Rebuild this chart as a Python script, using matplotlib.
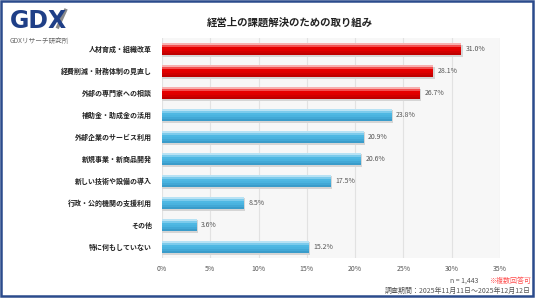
import matplotlib
matplotlib.use('Agg')
import matplotlib.pyplot as plt
from matplotlib.patches import Rectangle
from matplotlib.lines import Line2D

plt.rcParams['font.family'] = ['Noto Sans CJK JP', 'DejaVu Sans']

# データ
categories = [
    '人材育成・組織改革',
    '経費削減・財務体制の見直し',
    '外部の専門家への相談',
    '補助金・助成金の活用',
    '外部企業のサービス利用',
    '新規事業・新商品開発',
    '新しい技術や設備の導入',
    '行政・公的機関の支援利用',
    'その他',
    '特に何もしていない',
]
values = [31.0, 28.1, 26.7, 23.8, 20.9, 20.6, 17.5, 8.5, 3.6, 15.2]
highlight = [True, True, True, False, False, False, False, False, False, False]
xticks = [0, 5, 10, 15, 20, 25, 30, 35]

title = '経営上の課題解決のための取り組み'
note_n = 'n = 1,443'
note_multi = '※複数回答可'
note_period = '調査期間：2025年11月11日～2025年12月12日'

# 色 (上から下へのグラデーション)
red_shades = ['#f7b0b0', '#f25050', '#e60000', '#e00000', '#d00000', '#bf0000']
blue_shades = ['#b8e2f4', '#7ccbec', '#4fb8e3', '#4ab3df', '#42a8d6', '#3a9cca']

fig = plt.figure(figsize=(5.36, 2.98), dpi=100)
ax = fig.add_axes([0.302, 0.134, 0.631, 0.738])
ax.set_facecolor('#f7f7f7')

ypos = list(range(len(categories)))
bar_h = 0.56

# 影
ax.barh([y + 0.07 for y in ypos], [v + 0.15 for v in values], height=bar_h,
        color='#d5d5d5', zorder=2)

# グラデーションのバー
n_strip = len(red_shades)
strip_h = bar_h / n_strip
for i in range(n_strip):
    cols = [red_shades[i] if h else blue_shades[i] for h in highlight]
    ys = [y - bar_h / 2 + strip_h * (i + 0.5) for y in ypos]
    ax.barh(ys, values, height=strip_h * 1.02, color=cols, linewidth=0, zorder=3)

for y, v in zip(ypos, values):
    ax.text(v + 0.45, y, f'{v:.1f}%', va='center', ha='left',
            fontsize=5, color='#555555', zorder=4)

ax.set_xlim(0, 35)
ax.set_ylim(len(categories) - 0.5, -0.5)
ax.set_xticks(xticks)
ax.set_xticklabels([f'{t}%' for t in xticks], fontsize=5, color='#555555')
ax.set_yticks(ypos)
ax.set_yticklabels(categories, fontsize=5, fontweight='bold', color='#222222')
ax.tick_params(axis='both', length=0)
ax.tick_params(axis='y', pad=7)
ax.tick_params(axis='x', pad=5)
ax.grid(axis='x', color='#e2e2e2', linewidth=0.8, zorder=1)
ax.set_axisbelow(True)
for s in ax.spines.values():
    s.set_visible(False)

# タイトル
fig.text(0.541, 0.925, title, ha='center', va='center', fontsize=7.5,
         fontweight='bold', color='#222222')

# ロゴ
fig.text(0.018, 0.93, 'GDX', ha='left', va='center', fontsize=17,
         fontweight='bold', color='#1f3f87', family='DejaVu Sans')
fig.add_artist(Line2D([0.108, 0.122], [0.91, 0.965], color='#8a8a8a',
                      linewidth=2.5, transform=fig.transFigure))
fig.text(0.018, 0.862, 'GDXリサーチ研究所', ha='left', va='center',
         fontsize=4.8, color='#666666')

# 注記
fig.text(0.893, 0.058, note_n, ha='right', va='center', fontsize=5,
         color='#555555')
fig.text(0.99, 0.058, note_multi, ha='right', va='center', fontsize=5,
         color='#ff4d4d')
fig.text(0.99, 0.022, note_period, ha='right', va='center', fontsize=5,
         color='#555555')

# 枠
fig.add_artist(Rectangle((0.002, 0.006), 0.992, 0.99, fill=False,
                         edgecolor='#2b4b8c', linewidth=1.8,
                         transform=fig.transFigure))

fig.savefig('out.png', dpi=100)
